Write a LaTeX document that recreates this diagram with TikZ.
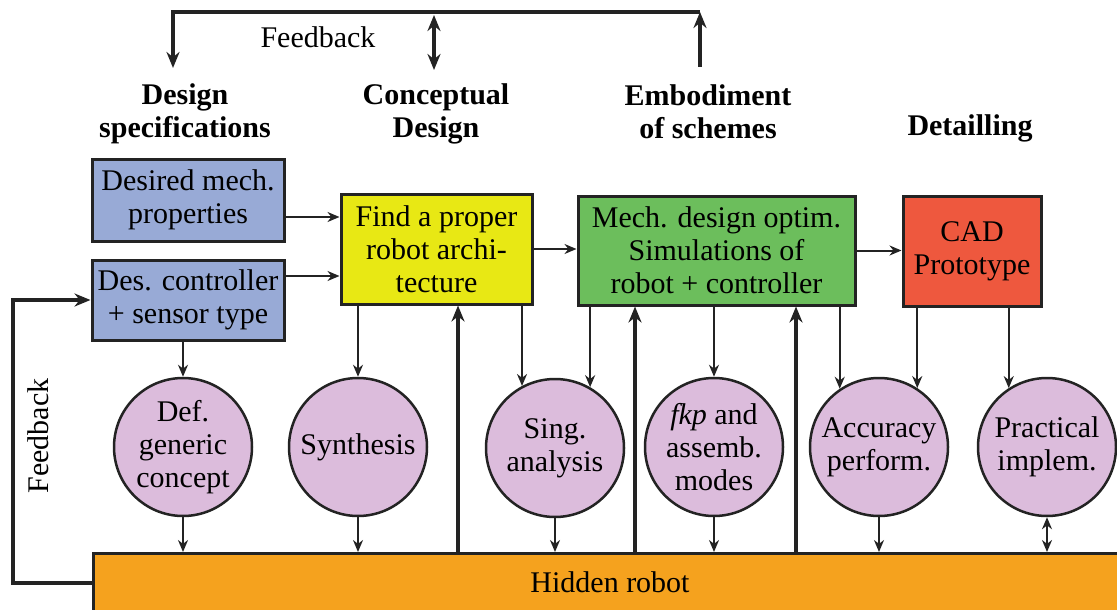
\documentclass[tikz,border=0pt]{standalone}
\usepackage{fontspec}
\setmainfont{Liberation Serif}
\usetikzlibrary{arrows.meta,calc}
\definecolor{bluec}{RGB}{152,170,214}
\definecolor{yelc}{RGB}{232,232,20}
\definecolor{grnc}{RGB}{108,190,92}
\definecolor{redc}{RGB}{238,88,62}
\definecolor{pinkc}{RGB}{220,188,220}
\definecolor{orangec}{RGB}{245,162,30}
\definecolor{linec}{RGB}{35,35,35}
\begin{document}
\begin{tikzpicture}[x=1pt,y=-1pt,
  every node/.style={font=\fontsize{30}{33}\selectfont, text=black},
  box/.style={draw=linec, line width=3pt, align=center, inner sep=0pt},
  circ/.style={circle, draw=linec, line width=2.5pt, fill=pinkc, minimum size=138pt, inner sep=0pt, align=center},
  head/.style={font=\fontsize{30}{33}\selectfont\bfseries, align=center},
  thinarr/.style={draw=linec, line width=2pt, -{Stealth[length=12pt,width=10pt]}},
  thinboth/.style={draw=linec, line width=2pt, {Stealth[length=12pt,width=10pt]}-{Stealth[length=12pt,width=10pt]}},
  thickarr/.style={draw=linec, line width=4pt, -{Stealth[length=16pt,width=13pt]}},
  thickboth/.style={draw=linec, line width=4pt, {Stealth[length=16pt,width=13pt]}-{Stealth[length=16pt,width=13pt]}}]
\useasboundingbox (0,0) rectangle (1117,610);

% headers
\node[head] (h1) at (185,114) {Design\\specifications};
\node[head] (h2) at (436,114) {Conceptual\\Design};
\node[head] (h3) at (708,111.5) {Embodiment\\of schemes};
\node[head] (h4) at (970,128) {Detailling};

% top feedback
\coordinate (fa) at (173,68);
\coordinate (fb) at (700,67);
\coordinate (fc) at (700,12);
\coordinate (fd1) at (434,15);
\coordinate (fd2) at (434,70);
\draw[thickarr] (fc) -| (fa);
\draw[thickarr] (fb) -- (fc);
\draw[thickboth] (fd1) -- (fd2);
\node (ftop) at (318,37) {Feedback};

% boxes
\node[box, fill=bluec, minimum width=192pt, minimum height=82pt] (b1) at (188,200) {Desired mech.\\properties};
\node[box, fill=bluec, minimum width=192pt, minimum height=80pt] (b2) at (188,300) {Des. controller\\+ sensor type};
\node[box, fill=yelc, minimum width=191pt, minimum height=110pt] (yel) at (436.5,249) {Find a proper\\robot archi-\\tecture};
\node[box, fill=grnc, minimum width=277pt, minimum height=109pt] (grn) at (716.5,250.5) {Mech. design optim.\\Simulations of\\robot + controller};
\node[box, fill=redc, minimum width=138pt, minimum height=110pt] (red) at (972,251) {CAD\\Prototype};

% bar
\node[draw=linec, line width=2.5pt, fill=orangec, minimum width=1040pt, minimum height=62pt, anchor=north west, inner sep=0pt] (bar) at (92,552) {};
\node (hr) at (610,582) {Hidden robot};

% circles
\node[circ] (c1) at (183,447) {Def.\\generic\\concept};
\node[circ] (c2) at (358,447) {Synthesis};
\node[circ] (c3) at (555,448) {Sing.\\analysis};
\node[circ] (c4) at (714,447) {\textit{fkp} and\\assemb.\\modes};
\node[circ] (c5) at (879,447) {Accuracy\\perform.};
\node[circ] (c6) at (1047,447) {Practical\\implem.};

% horizontal arrows
\draw[thinarr] ([yshift=-17pt]b1.east) -- ([yshift=-17pt]b1.east -| yel.west);
\draw[thinarr] ([yshift=24pt]b2.east) -- ([yshift=24pt]b2.east -| yel.west);
\draw[thinarr] (yel.east) -- (yel.east -| grn.west);
\draw[thinarr] (grn.east) -- (grn.east -| red.west);

% box to circle arrows
\draw[thinarr] (c1.north |- b2.south) -- (c1.north);
\draw[thinarr] (c2.north |- yel.south) -- (c2.north);
\draw[thinarr] (c3.118.6 |- yel.south) -- (c3.118.6);
\draw[thinarr] (c3.60.5 |- grn.south) -- (c3.60.5);
\draw[thinarr] (c4.north |- grn.south) -- (c4.north);
\draw[thinarr] (c5.124.4 |- grn.south) -- (c5.124.4);
\draw[thinarr] (c5.57.6 |- red.south) -- (c5.57.6);
\draw[thinarr] (c6.123.4 |- red.south) -- (c6.123.4);

% circle to bar arrows
\draw[thinarr] (c1.south) -- (c1.south |- bar.north);
\draw[thinarr] (c2.south) -- (c2.south |- bar.north);
\draw[thinarr] (c3.south) -- (c3.south |- bar.north);
\draw[thinarr] (c4.south) -- (c4.south |- bar.north);
\draw[thinarr] (c5.south) -- (c5.south |- bar.north);
\draw[thinboth] (c6.south) -- (c6.south |- bar.north);

% thick up arrows from bar
\draw[thickarr] (bar.north -| 458,0) -- (yel.south -| 458,0);
\draw[thickarr] (bar.north -| 635,0) -- (grn.south -| 635,0);
\draw[thickarr] (bar.north -| 796,0) -- (grn.south -| 796,0);

% left feedback
\draw[thickarr] (bar.west |- 0,583) -- (13,583) |- (b2.west);
\node[rotate=90] (fleft) at (38,436) {Feedback};
\end{tikzpicture}
\end{document}
